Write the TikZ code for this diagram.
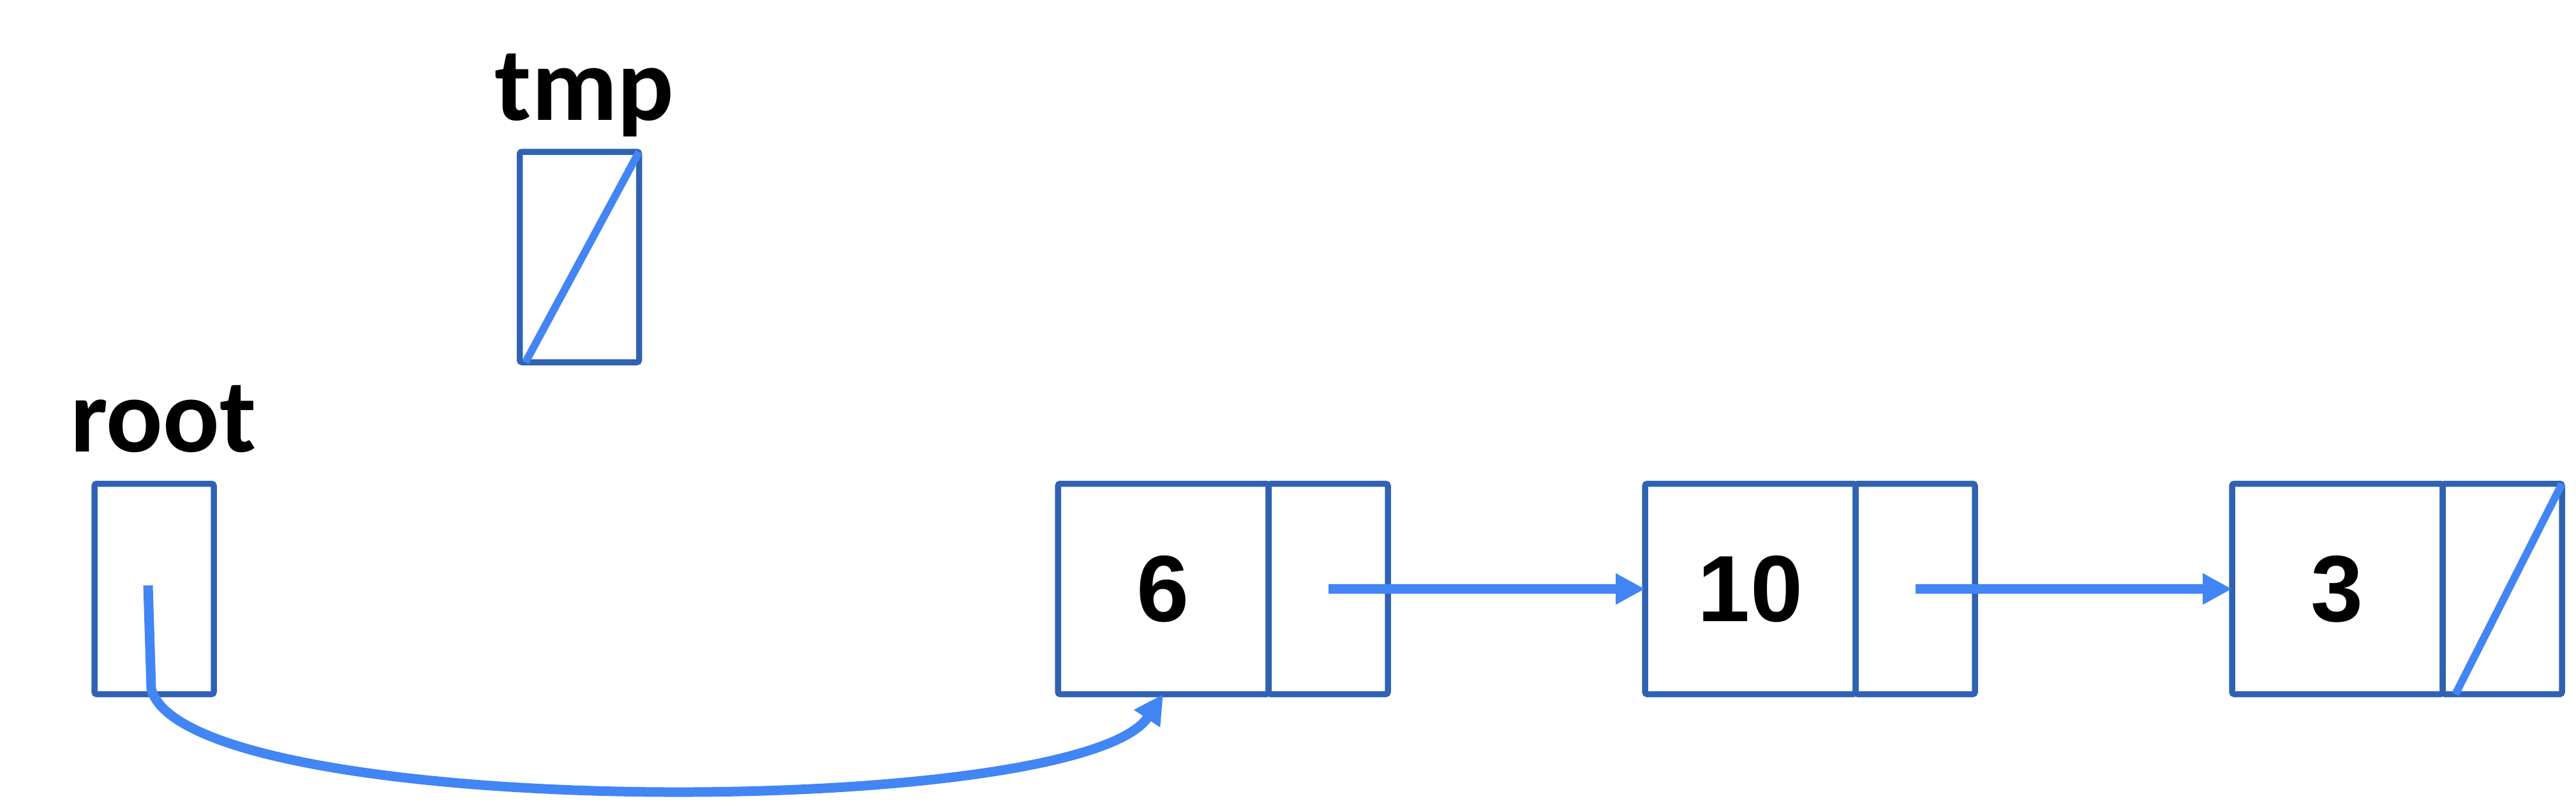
\documentclass[tikz,border=0pt]{standalone}
\usepackage{fontspec}
\newfontfamily\labelfont{Carlito}
\newfontfamily\valfont{Liberation Sans}
\usetikzlibrary{arrows.meta,positioning}
\definecolor{cellblue}{HTML}{3062B4}
\definecolor{linkblue}{HTML}{4285F4}
\tikzset{
  cell/.style={draw=cellblue, line width=0.095cm, rounded corners=1pt,
    outer sep=0pt, inner sep=0pt, minimum height=3.30cm},
  datacell/.style={cell, minimum width=3.30cm,
    font=\valfont\bfseries\fontsize{42}{48}\selectfont},
  ptrcell/.style={cell, minimum width=1.87cm},
  varname/.style={font=\labelfont\bfseries\fontsize{47}{52}\selectfont,
    anchor=base, inner sep=0pt},
  flow/.style={draw=linkblue, line width=0.15cm,
    -{Triangle[length=4.6mm, width=4.6mm]}},
  nil/.style={draw=linkblue, line width=0.12cm},
}

\begin{document}
\begin{tikzpicture}
\useasboundingbox (0,0) rectangle (40.37,-12.67);

% the two pointer variables
\node[ptrcell] (tmp) at (9.08,-4.03) {};
\node[varname] (tmplab) at (9.16,-1.88) {tmp};
\node[ptrcell] (root) at (2.415,-9.235) {};
\node[varname] (rootlab) at (2.56,-7.08) {root};

% the list itself: 6, 10, 3, then null
\node[datacell] (d6) at (18.23,-9.235) {6};
\node[ptrcell, right=0pt of d6] (p6) {};
\node[datacell, right=4.03cm of p6] (d10) {10};
\node[ptrcell, right=0pt of d10] (p10) {};
\node[datacell, right=4.03cm of p10] (d3) {3};
\node[ptrcell, right=0pt of d3] (p3) {};

\draw[flow] (p6.center) -- (d10.west);
\draw[flow] (p10.center) -- (d3.west);

% null pointers
\draw[nil] ([xshift=0.09cm]tmp.south west) -- (tmp.north east);
\draw[nil] ([xshift=0.2cm]p3.south west) -- (p3.north east);

% root points at the head
\coordinate (rootptr) at (2.32,-9.18);
\coordinate (rootbend) at (2.37,-10.8);
\draw[flow] (rootptr) -- (rootbend)
  .. controls (2.9,-12.88) and (16.9,-12.88) .. (d6.south);

\end{tikzpicture}
\end{document}
